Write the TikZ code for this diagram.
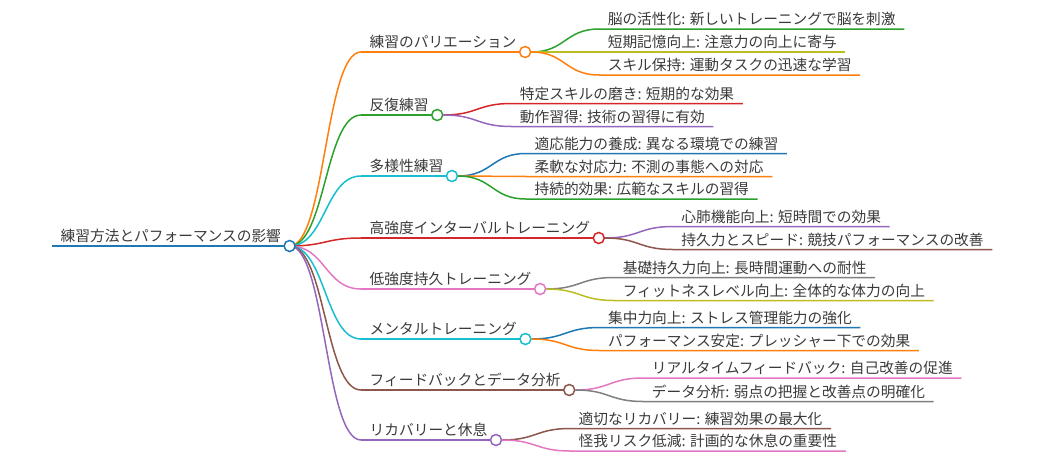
\documentclass[tikz,border=0pt]{standalone}
\usepackage{fontspec}
\setmainfont{Noto Sans CJK JP}
\usetikzlibrary{calc,positioning,backgrounds}

\definecolor{mblue}{HTML}{1F77B4}
\definecolor{morange}{HTML}{FF7F0E}
\definecolor{mgreen}{HTML}{2CA02C}
\definecolor{mred}{HTML}{D62728}
\definecolor{mpurple}{HTML}{9467BD}
\definecolor{mbrown}{HTML}{8C564B}
\definecolor{mpink}{HTML}{E377C2}
\definecolor{mgray}{HTML}{7F7F7F}
\definecolor{molive}{HTML}{BCBD22}
\definecolor{mcyan}{HTML}{17BECF}
\definecolor{mtext}{HTML}{3A3A3A}

\tikzset{
  topic/.style={
    anchor=south west,
    font=\fontsize{14.7}{17}\selectfont,
    text=mtext,
    inner xsep=8.5pt,
    inner ysep=4pt,
    text depth=0pt},
  knot/.style={
    circle,
    fill=white,
    line width=1.5pt,
    minimum size=11pt,
    inner sep=0pt},
  uline/.style={draw, line width=1.6pt},
  twig/.style={draw, line width=1.5pt},
}

\begin{document}
\begin{tikzpicture}[x=1pt,y=-1pt]
  \useasboundingbox (0,0) rectangle (1044,463);
  % the root
  \node[topic] (root) at (52,246) {練習方法とパフォーマンスの影響};
  \node[knot, draw=mblue] (rootK) at (root.south east) {};
  % first level
  \node[topic] (var)  at (361,52)  {練習のパリエーション};
  \node[topic] (rep)  at (361,115) {反復練習};
  \node[topic] (div)  at (361,176) {多様性練習};
  \node[topic] (hiit) at (361,238) {高強度インターバルトレーニング};
  \node[topic] (low)  at (361,289) {低強度持久トレーニング};
  \node[topic] (ment) at (361,339) {メンタルトレーニング};
  \node[topic] (feed) at (361,390) {フィードバックとデータ分析};
  \node[topic] (rec)  at (361,440) {リカバリーと休息};
  \node[knot, draw=morange] (varK)  at (var.south east)  {};
  \node[knot, draw=mgreen]  (repK)  at (rep.south east)  {};
  \node[knot, draw=mcyan]   (divK)  at (div.south east)  {};
  \node[knot, draw=mred]    (hiitK) at (hiit.south east) {};
  \node[knot, draw=mpink]   (lowK)  at (low.south east)  {};
  \node[knot, draw=mcyan]   (mentK) at (ment.south east) {};
  \node[knot, draw=mbrown]  (feedK) at (feed.south east) {};
  \node[knot, draw=mpurple] (recK)  at (rec.south east)  {};
  % the leaves
  \node[topic] (var1) at ($(varK)+(74,-23)$) {脳の活性化: 新しいトレーニングで脳を刺激};
  \node[topic] (var2) at ($(varK)+(74,0)$)   {短期記憶向上: 注意力の向上に寄与};
  \node[topic] (var3) at ($(varK)+(74,23)$)  {スキル保持: 運動タスクの迅速な学習};
  \node[topic] (rep1) at ($(repK)+(74,-11.5)$) {特定スキルの磨き: 短期的な効果};
  \node[topic] (rep2) at ($(repK)+(74,11.5)$)  {動作習得: 技術の習得に有効};
  \node[topic] (div1) at ($(divK)+(74,-22.5)$) {適応能力の養成: 異なる環境での練習};
  \node[topic] (div2) at ($(divK)+(74,0.5)$)   {柔軟な対応力: 不測の事態への対応};
  \node[topic] (div3) at ($(divK)+(74,23)$)    {持続的効果: 広範なスキルの習得};
  \node[topic] (hiit1) at ($(hiitK)+(74,-11.5)$) {心肺機能向上: 短時間での効果};
  \node[topic] (hiit2) at ($(hiitK)+(74,11.5)$)  {持久力とスピード: 競技パフォーマンスの改善};
  \node[topic] (low1) at ($(lowK)+(74,-11.5)$) {基礎持久力向上: 長時間運動への耐性};
  \node[topic] (low2) at ($(lowK)+(74,11.5)$)  {フィットネスレベル向上: 全体的な体力の向上};
  \node[topic] (ment1) at ($(mentK)+(74,-11.5)$) {集中力向上: ストレス管理能力の強化};
  \node[topic] (ment2) at ($(mentK)+(74,11.5)$)  {パフォーマンス安定: プレッシャー下での効果};
  \node[topic] (feed1) at ($(feedK)+(74,-12)$) {リアルタイムフィードバック: 自己改善の促進};
  \node[topic] (feed2) at ($(feedK)+(74,11.5)$) {データ分析: 弱点の把握と改善点の明確化};
  \node[topic] (rec1) at ($(recK)+(74,-11.5)$) {適切なリカバリー: 練習効果の最大化};
  \node[topic] (rec2) at ($(recK)+(74,11)$)    {怪我リスク低減: 計画的な休息の重要性};

  \begin{scope}[on background layer]
    % underlines up to the knots
    \draw[uline, mblue] (root.south west) -- (rootK.center);
    \draw[uline, morange] (var.south west) -- (varK.center);
    \draw[uline, mgreen]  (rep.south west) -- (repK.center);
    \draw[uline, mcyan]   (div.south west) -- (divK.center);
    \draw[uline, mred]    (hiit.south west) -- (hiitK.center);
    \draw[uline, mpink]   (low.south west) -- (lowK.center);
    \draw[uline, mcyan]   (ment.south west) -- (mentK.center);
    \draw[uline, mbrown]  (feed.south west) -- (feedK.center);
    \draw[uline, mpurple] (rec.south west) -- (recK.center);
    % root branches
    \draw[twig, morange] (rootK.center) .. controls +(36,0) and +(-36,0) .. (var.south west);
    \draw[twig, mgreen]  (rootK.center) .. controls +(36,0) and +(-36,0) .. (rep.south west);
    \draw[twig, mcyan]   (rootK.center) .. controls +(36,0) and +(-36,0) .. (div.south west);
    \draw[twig, mred]    (rootK.center) .. controls +(36,0) and +(-36,0) .. (hiit.south west);
    \draw[twig, mpink]   (rootK.center) .. controls +(36,0) and +(-36,0) .. (low.south west);
    \draw[twig, mcyan]   (rootK.center) .. controls +(36,0) and +(-36,0) .. (ment.south west);
    \draw[twig, mbrown]  (rootK.center) .. controls +(36,0) and +(-36,0) .. (feed.south west);
    \draw[twig, mpurple] (rootK.center) .. controls +(36,0) and +(-36,0) .. (rec.south west);
  \end{scope}

  % leaf branches and underlines
  \draw[twig, mgreen]  (varK.east) .. controls +(34,0) and +(-34,0) .. (var1.south west) -- (var1.south east);
  \draw[twig, molive]  (varK.east) .. controls +(34,0) and +(-34,0) .. (var2.south west) -- (var2.south east);
  \draw[twig, morange] (varK.east) .. controls +(34,0) and +(-34,0) .. (var3.south west) -- (var3.south east);
  \draw[twig, mred]    (repK.east) .. controls +(34,0) and +(-34,0) .. (rep1.south west) -- (rep1.south east);
  \draw[twig, mpurple] (repK.east) .. controls +(34,0) and +(-34,0) .. (rep2.south west) -- (rep2.south east);
  \draw[twig, mblue]   (divK.east) .. controls +(34,0) and +(-34,0) .. (div1.south west) -- (div1.south east);
  \draw[twig, morange] (divK.east) .. controls +(34,0) and +(-34,0) .. (div2.south west) -- (div2.south east);
  \draw[twig, mgreen]  (divK.east) .. controls +(34,0) and +(-34,0) .. (div3.south west) -- (div3.south east);
  \draw[twig, mpurple] (hiitK.east) .. controls +(34,0) and +(-34,0) .. (hiit1.south west) -- (hiit1.south east);
  \draw[twig, mbrown]  (hiitK.east) .. controls +(34,0) and +(-34,0) .. (hiit2.south west) -- (hiit2.south east);
  \draw[twig, mgray]   (lowK.east) .. controls +(34,0) and +(-34,0) .. (low1.south west) -- (low1.south east);
  \draw[twig, molive]  (lowK.east) .. controls +(34,0) and +(-34,0) .. (low2.south west) -- (low2.south east);
  \draw[twig, mblue]   (mentK.east) .. controls +(34,0) and +(-34,0) .. (ment1.south west) -- (ment1.south east);
  \draw[twig, morange] (mentK.east) .. controls +(34,0) and +(-34,0) .. (ment2.south west) -- (ment2.south east);
  \draw[twig, mpink]   (feedK.east) .. controls +(34,0) and +(-34,0) .. (feed1.south west) -- (feed1.south east);
  \draw[twig, mgray]   (feedK.east) .. controls +(34,0) and +(-34,0) .. (feed2.south west) -- (feed2.south east);
  \draw[twig, mbrown]  (recK.east) .. controls +(34,0) and +(-34,0) .. (rec1.south west) -- (rec1.south east);
  \draw[twig, mpink]   (recK.east) .. controls +(34,0) and +(-34,0) .. (rec2.south west) -- (rec2.south east);
\end{tikzpicture}
\end{document}
